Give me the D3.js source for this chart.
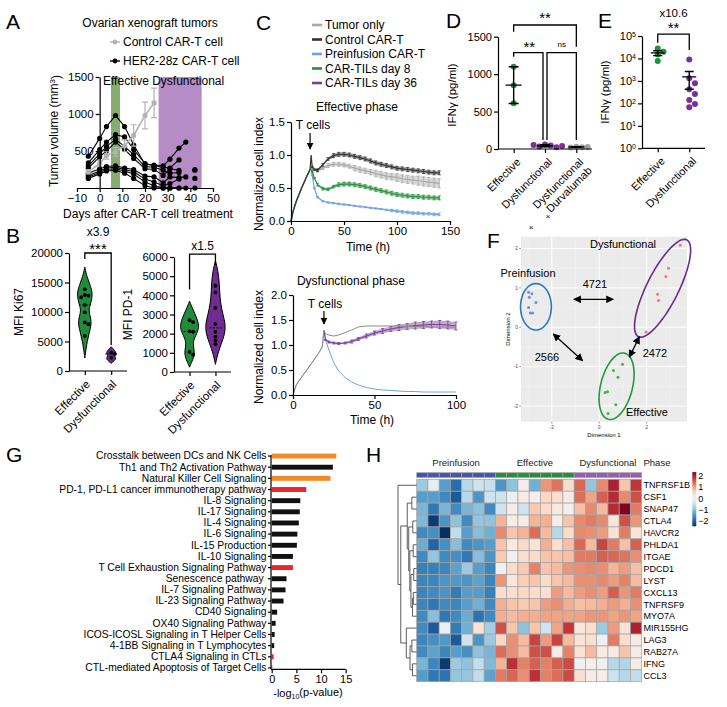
<!DOCTYPE html>
<html>
<meta charset="utf-8">
<style>
  body { margin: 0; background: #fff; }
  svg text { font-family: "Liberation Sans", Arial, Helvetica, sans-serif; }
</style>
<body>
<script src="https://cdn.jsdelivr.net/npm/d3@7"></script>
<div id="chart"></div>
<script>
// ---------------- data ----------------
// A: tumor volume
var aCtrlDays = [-5, 0, 3, 7, 11, 15, 20, 24];
var aCtrlVol  = [220, 330, 440, 490, 570, 710, 980, 1150];
var aCtrlErr  = [30, 40, 50, 60, 80, 145, 180, 200];
var aMiceDays = [-5, 0, 3, 7, 11, 15, 20, 24, 28, 31, 35, 38, 42];
var aMice = [
  [430, 670, 830, 980, 830, 580, 320, 310, 300, 390, 540, 620, null],
  [340, 520, 620, 720, 690, 520, 330, 300, 280, 270, 380, null, null],
  [300, 460, 560, 660, 560, 450, 290, 280, 240, 200, 210, null, 240],
  [270, 420, 500, 620, 520, 400, 260, 250, 170, 260, 240, null, 250],
  [200, 260, 290, 300, 270, 250, 160, 150, 70, 150, 140, 150, null],
  [170, 230, 270, 280, 250, 220, 120, 80, 30, 60, 120, null, 130],
  [150, 210, 250, 260, 230, 190, 80, 30, 0, 0, 0, 0, null],
  [130, 190, 230, 240, 200, 130, 30, 0, 0, 0, 0, null, 0]
];
var aPhaseNames = ["Effective", "Dysfunctional"];
var aPhaseFrom = [5, 26];
var aPhaseTo = [9, 45];

// B: violins (value, relative density)
var bKi67Eff = [13850, 12880, 12760, 12500, 11190, 9950, 8250, 7920, 5930];
var bKi67Dys = [3100, 2900, 2250];
var bKi67EffShape = [[17600,0],[16000,0.25],[14500,0.7],[13000,1],[11500,0.75],[10300,0.45],[9200,0.7],[8000,0.85],[6500,0.55],[5000,0.3],[3500,0.12],[2200,0]];
var bKi67DysShape = [[4100,0],[3600,0.35],[3100,0.65],[2600,0.35],[2100,0.65],[1700,0.35],[1300,0]];
var bPd1Eff = [2700, 2600, 2120, 2100, 1050, 900];
var bPd1Dys = [4500, 4150, 3350, 2500, 2100, 1850, 1650, 1450];
var bPd1EffShape = [[3700,0],[3300,0.3],[2800,0.75],[2300,1],[1900,0.6],[1500,0.3],[1100,0.5],[800,0.45],[500,0.2],[250,0]];
var bPd1DysShape = [[5800,0],[5300,0.25],[4700,0.38],[4200,0.42],[3600,0.5],[3000,0.75],[2500,1],[2000,0.95],[1500,0.6],[1000,0.25],[400,0]];

// C: cell index curves
var cSeries = ["Tumor only", "Control CAR-T", "Preinfusion CAR-T", "CAR-TILs day 8", "CAR-TILs day 36"];
var cT1 = [0,2,5,10,15,18,19,20,22,25,30,35,40,45,50,55,60,65,70,75,80,85,90,95,100,105,110,115,120,125,130,135,140];
var cTumor1 = [0,0.15,0.3,0.5,0.68,0.78,0.8,0.79,0.77,0.76,0.8,0.84,0.86,0.86,0.85,0.83,0.8,0.78,0.76,0.74,0.72,0.7,0.68,0.67,0.66,0.64,0.63,0.62,0.61,0.6,0.59,0.58,0.57];
var cTumor1Err = [0,0,0,0,0,0,0,0.01,0.01,0.02,0.02,0.03,0.03,0.03,0.03,0.03,0.04,0.04,0.04,0.04,0.05,0.05,0.05,0.05,0.06,0.06,0.06,0.06,0.07,0.07,0.07,0.07,0.07];
var cCtrl1 = [0,0.15,0.3,0.5,0.68,0.78,1.0,0.82,0.78,0.77,0.85,0.94,0.99,1.01,1.01,1.0,0.98,0.96,0.94,0.91,0.88,0.86,0.84,0.82,0.8,0.79,0.78,0.77,0.76,0.75,0.74,0.73,0.73];
var cCtrl1Err = [0,0,0,0,0,0,0,0.01,0.01,0.02,0.02,0.02,0.03,0.03,0.03,0.03,0.03,0.03,0.03,0.03,0.03,0.03,0.03,0.03,0.03,0.03,0.03,0.03,0.03,0.03,0.03,0.03,0.03];
var cPre1 = [0,0.15,0.3,0.5,0.68,0.78,0.8,0.7,0.5,0.36,0.3,0.28,0.27,0.26,0.25,0.24,0.23,0.22,0.21,0.2,0.19,0.18,0.17,0.16,0.15,0.14,0.13,0.12,0.12,0.11,0.11,0.1,0.1];
var cPre1Err = [0,0,0,0,0,0,0,0.01,0.01,0.01,0.01,0.01,0.01,0.01,0.01,0.01,0.01,0.01,0.01,0.01,0.01,0.01,0.01,0.02,0.02,0.02,0.02,0.02,0.02,0.02,0.02,0.02,0.02];
var cD8 = [0,0.15,0.3,0.5,0.68,0.78,0.8,0.75,0.65,0.55,0.49,0.48,0.52,0.55,0.56,0.56,0.55,0.54,0.52,0.5,0.48,0.46,0.44,0.42,0.4,0.39,0.38,0.37,0.37,0.36,0.36,0.35,0.35];
var cD8Err = [0,0,0,0,0,0,0,0.01,0.01,0.02,0.02,0.02,0.02,0.03,0.03,0.03,0.03,0.03,0.03,0.03,0.03,0.03,0.03,0.03,0.03,0.03,0.03,0.03,0.03,0.03,0.03,0.03,0.03];
var cT2 = [0,2,4,8,12,16,18,19,20,22,25,28,32,36,40,45,50,55,60,65,70,75,80,85,90,95,100];
var cTumor2 = [0,0.2,0.3,0.48,0.66,0.85,0.97,1.3,1.22,1.2,1.18,1.2,1.25,1.3,1.36,1.38,1.38,1.38,1.38,1.38,1.37,1.37,1.37,1.36,1.36,1.36,1.36];
var cPre2 = [0,0.2,0.3,0.48,0.66,0.85,0.97,1.3,1.1,0.9,0.65,0.48,0.35,0.26,0.2,0.15,0.12,0.1,0.09,0.08,0.07,0.07,0.06,0.06,0.06,0.06,0.06];
var cD36 = [null,null,null,null,null,null,null,1.28,1.1,1.06,1.04,1.03,1.04,1.07,1.12,1.18,1.24,1.28,1.32,1.35,1.37,1.39,1.4,1.41,1.41,1.4,1.38];
var cD36Err = [0,0,0,0,0,0,0,0,0.01,0.02,0.02,0.02,0.02,0.03,0.03,0.04,0.04,0.05,0.05,0.06,0.06,0.07,0.07,0.07,0.08,0.08,0.08];

// D: IFNg
var dGroups = ["Effective", "Dysfunctional", "Dysfunctional|Durvalumab"];
var dEff = [1100, 850, 610];
var dDys = [60, 48, 35, 25, 52, 40];
var dDurva = [30, 25, 20, 28];

// E: IFNg log
var eGroups = ["Effective", "Dysfunctional"];
var eEff = [28000, 20000, 15000, 7700];
var eDys = [9100, 1300, 780, 430, 260, 140, 94, 67];

// F: MDS
var fGroups = ["Preinfusion", "Effective", "Dysfunctional"];
var fPre = [[-2.98,0.89],[-2.84,0.85],[-2.95,0.76],[-2.67,0.63],[-2.98,0.5],[-2.91,0.36],[-2.81,0.36]];
var fEff = [[0.98,-0.94],[0.6,-1.1],[0.79,-1.27],[0.35,-1.64],[0.25,-1.66],[0.7,-1.97],[0.37,-2.19]];
var fDys = [[3.42,2.08],[2.92,1.5],[2.81,1.29],[2.46,0.84],[2.5,0.68],[1.97,-0.12]];
var fEllCenter = [[-2.67,0.52],[0.73,-1.5],[2.67,0.99]];
var fEllMajor = [[0,0.59],[0.35,0.84],[1.02,1.23]];
var fEllMinor = [[0.65,0],[0.65,-0.1],[0.6,-0.18]];
var fDist = ["4721", "2566", "2472"];
var fDistFrom = [[-1.07,0.71],[-1.94,-0.17],[1.69,-0.24]];
var fDistTo = [[0.59,0.71],[-0.7,-0.85],[1.27,-0.76]];

// G: pathways
var gPathways = ["Crosstalk between DCs and NK Cells","Th1 and Th2 Activation Pathway","Natural Killer Cell Signaling","PD-1, PD-L1 cancer immunotherapy pathway","IL-8 Signaling","IL-17 Signaling","IL-4 Signaling","IL-6 Signaling","IL-15 Production","IL-10 Signaling","T Cell Exhaustion Signaling Pathway","Senescence pathway\u00a0","IL-7 Signaling Pathway","IL-23 Signaling Pathway","CD40 Signaling","OX40 Signaling Pathway","ICOS-ICOSL Signaling in T Helper Cells","4-1BB Signaling in T Lymphocytes","CTLA4 Signaling in CTLs","CTL-mediated Apoptosis of Target Cells"];
var gLogP = [13.1, 12.4, 11.9, 7.0, 5.8, 5.7, 5.5, 5.2, 5.1, 4.3, 4.3, 3.0, 2.8, 2.4, 1.1, 0.8, 0.6, 0.5, 0.4, 0.1];
var gCategory = ["nk","other","nk","checkpoint","other","other","other","other","other","other","checkpoint","other","other","other","other","other","other","other","checkpoint","other"];

// H: heatmap
var hGenes = ["TNFRSF1B","CSF1","SNAP47","CTLA4","HAVCR2","PHLDA1","ITGAE","PDCD1","LYST","CXCL13","TNFRSF9","MYO7A","MIR155HG","LAG3","RAB27A","IFNG","CCL3"];
var hPhases = ["Preinfusion","Effective","Dysfunctional"];
var hSamplePhase = [0,0,0,0,0,0,0,1,1,1,1,1,1,1,2,2,2,2,2,2];
var hValues = [
  [-0.9,-0.2,-1.4,-1.9,-0.7,-0.5,-0.55,-1.5,-1.0,0.1,-1.2,1.1,1.35,0.45,1.45,-0.95,1.2,2.0,0.7,1.8],
  [-1.4,-1.4,-1.6,-2.1,-0.7,-1.5,-0.5,-0.5,-0.15,0.2,0.1,0.5,0.4,0.15,1.4,1.0,1.5,1.9,1.2,1.6],
  [-1.15,-1.8,-1.15,-1.6,-1.15,-1.0,-1.6,-0.5,0.1,-0.5,0.65,0.45,0.25,0,0.75,1.2,0.8,1.9,2.35,1.3],
  [-1.1,-2.4,-1.5,-1.0,-1.6,-0.95,-1.0,0.85,0.15,0.15,0.85,0.9,0.1,0.7,1.2,1.3,1.2,0.3,1.6,1.1],
  [-1.6,-1.55,-2.5,-0.6,-1.4,-1.05,-1.2,1.2,0.7,0.85,1.4,0.8,-0.7,0.45,1.2,1.15,1.05,0.35,1.3,0.3],
  [-1.25,-2.0,-1.55,-1.05,-1.6,-1.5,-1.4,0.7,0.2,0.45,0.35,0.9,0.4,0.75,1.45,0.8,1.7,1.3,0.75,1.5],
  [-1.6,-0.95,-1.6,-1.55,-1.8,-1.05,-1.5,0.65,0,0.4,0.45,0.7,0.7,0.75,1.3,1.3,1.5,1.45,1.35,1.15],
  [-1.7,-1.7,-1.65,-1.35,-0.9,-1.4,-1.65,0,0.45,0.65,1.25,0.7,0.8,1.1,1.15,1.2,1.15,0.85,1.05,0.75],
  [-1.65,-1.65,-1.5,-1.45,-1.5,-1.35,-1.65,1.1,0.3,0.6,0.7,0.45,0.7,0.8,1.15,1.15,1.2,1.05,1.25,0.8],
  [-1.65,-1.6,-1.5,-1.75,-1.4,-1.4,-1.7,0.4,0.4,0.5,0.45,0.4,1.05,0.8,1.05,1.15,1.05,1.5,1.1,1.3],
  [-1.65,-1.8,-1.6,-1.65,-1.4,-1.2,-1.6,0.9,0.7,0.65,0.7,1.05,1.15,0.9,0.75,0.8,0.9,1.05,0.9,1.15],
  [-1.6,-1.05,-1.8,-1.6,-1.25,-1.85,-1.6,0.9,0.8,0.9,0.9,1.0,1.0,1.0,1.0,1.1,1.1,1.0,1.1,1.0],
  [-1.6,-2.1,-0.15,-1.75,-1.2,0.35,-0.85,1.6,0.7,-1.0,0.7,-0.5,1.0,1.8,0.3,0.4,-0.9,1.05,0.35,2.0],
  [-1.65,-1.55,-1.45,-2.1,-0.45,-1.5,-0.9,0.5,1.15,0.8,1.7,1.05,1.7,0.8,0.35,0.4,-0.15,1.3,0.4,0.15],
  [-1.6,-1.35,-1.65,-1.4,-1.55,-1.0,-1.15,1.4,1.15,0.8,1.6,1.6,0.15,1.25,0.35,0.8,0.2,0.15,0.7,0.15],
  [-1.15,-1.65,-2.4,-0.9,-1.0,-0.6,-1.1,0.85,1.85,1.25,1.5,1.25,1.5,1.65,0,0.05,0.05,-0.7,-0.75,0.15],
  [-1.4,-1.8,-1.85,-0.95,-0.95,-0.6,-1.35,1.3,1.45,1.15,1.85,1.25,1.4,1.65,0.4,0.15,0.1,-0.5,-0.7,-0.6]
];
// row dendrogram, hclust style: negative = leaf (1-based), positive = earlier merge
var hMerge = [[-2,-3],[-4,-5],[-6,-7],[-8,-9],[-10,-11],[5,-12],[4,6],[3,7],[2,8],[1,9],[-14,-15],[-16,-17],[11,12],[-13,13],[10,14],[-1,15]];
var hHeight = [2.5, 2.0, 1.8, 1.5, 1.7, 2.2, 3.0, 3.6, 4.2, 5.0, 2.5, 2.2, 3.5, 5.5, 8.5, 10];
var hLegendTicks = [2, 1, 0, -1, -2];

// ---------------- drawing ----------------
var FONT = '"Liberation Sans", Arial, Helvetica, sans-serif';
var fmt = d3.format("d");
var svg = d3.select("#chart").append("svg")
  .attr("width", 727).attr("height", 707)
  .style("background", "#fff");

var defs = svg.append("defs");
defs.append("marker").attr("id", "arr").attr("viewBox", "0 0 10 10")
  .attr("refX", 9).attr("refY", 5).attr("markerWidth", 6).attr("markerHeight", 6)
  .attr("orient", "auto-start-reverse")
  .append("path").attr("d", "M0,0 L10,5 L0,10 z").attr("fill", "#000");

function styleAxis(g, fs) {
  g.attr("font-family", FONT).attr("font-size", fs);
  g.selectAll("path.domain").attr("stroke", "#000").attr("stroke-width", 1.2);
  g.selectAll(".tick line").attr("stroke", "#000").attr("stroke-width", 1.2);
  g.selectAll(".tick text").attr("fill", "#000");
  return g;
}
function text(g, s, x, y, fs, anchor) {
  return g.append("text").attr("x", x).attr("y", y).attr("font-size", fs)
    .attr("text-anchor", anchor || "start").attr("fill", "#000").text(s);
}
function vlabel(g, s, x, y, fs) {
  return g.append("text").attr("transform", "translate(" + x + "," + y + ") rotate(-90)")
    .attr("font-size", fs).attr("text-anchor", "middle").attr("fill", "#000").text(s);
}
function rotLabels(g, cats, xs, y0, fs, dx) {
  cats.forEach(function (c, i) {
    var t = g.append("text").attr("transform", "translate(" + (xs(c) + dx) + "," + y0 + ") rotate(-45)")
      .attr("font-size", fs).attr("text-anchor", "end").attr("fill", "#000");
    c.split("|").forEach(function (line, j) {
      t.append("tspan").attr("x", 0).attr("dy", j === 0 ? "0.35em" : "1.1em").text(line);
    });
  });
}
function swarm(vals, y, r) {
  var placed = [];
  return vals.map(function (v) {
    var py = y(v), offs = [0, 1, -1, 2, -2, 3, -3], off = 0;
    for (var k = 0; k < offs.length; k++) {
      off = offs[k] * r * 1.9;
      if (!placed.some(function (p) { return Math.hypot(p[0] - off, p[1] - py) < r * 1.8; })) break;
    }
    placed.push([off, py]);
    return [off, py, v];
  });
}
function bracket(g, x1, x2, yTop, yL, yR) {
  g.append("path").attr("d", "M" + x1 + "," + yL + "V" + yTop + "H" + x2 + "V" + yR)
    .attr("fill", "none").attr("stroke", "#000").attr("stroke-width", 1.3);
}

// ===== Panel A =====
(function () {
  var g = svg.append("g");
  var x = d3.scaleLinear().domain([-10, 50]).range([77, 213]);
  var y = d3.scaleLinear().domain([0, 1500]).range([188, 77]);
  var bandColors = ["#86ad6f", "#b58cc6"];
  aPhaseFrom.forEach(function (f, i) {
    g.append("rect").attr("x", x(f)).attr("width", x(aPhaseTo[i]) - x(f))
      .attr("y", y(1500)).attr("height", y(0) - y(1500)).attr("fill", bandColors[i]);
  });
  text(g, "A", 6, 29, 21);
  text(g, "Ovarian xenograft tumors", 150, 27, 12, "middle");
  text(g, aPhaseNames.join(" "), 103, 85, 12);

  var line = d3.line().defined(function (d) { return d[1] != null; })
    .x(function (d) { return x(d[0]); }).y(function (d) { return y(d[1]); });
  aMice.forEach(function (m) {
    var pts = aMiceDays.map(function (d, i) { return [d, m[i]]; });
    g.append("path").attr("d", line(pts)).attr("fill", "none").attr("stroke", "#000").attr("stroke-width", 1.1);
    g.selectAll(null).data(pts.filter(function (p) { return p[1] != null; })).enter().append("circle")
      .attr("cx", function (p) { return x(p[0]); }).attr("cy", function (p) { return y(p[1]); })
      .attr("r", 2.6).attr("fill", "#000");
  });
  var cpts = aCtrlDays.map(function (d, i) { return [d, aCtrlVol[i], aCtrlErr[i]]; });
  var gray = "#b3b3b3";
  cpts.forEach(function (p) {
    g.append("path").attr("d", "M" + (x(p[0]) - 3) + "," + y(p[1] + p[2]) + "H" + (x(p[0]) + 3) +
      "M" + x(p[0]) + "," + y(p[1] + p[2]) + "V" + y(p[1] - p[2]) + "M" + (x(p[0]) - 3) + "," + y(p[1] - p[2]) + "H" + (x(p[0]) + 3))
      .attr("stroke", gray).attr("stroke-width", 1.2).attr("fill", "none");
  });
  g.append("path").attr("d", line(cpts)).attr("fill", "none").attr("stroke", gray).attr("stroke-width", 1.6);
  g.selectAll(null).data(cpts).enter().append("circle")
    .attr("cx", function (p) { return x(p[0]); }).attr("cy", function (p) { return y(p[1]); })
    .attr("r", 2.6).attr("fill", gray);

  // legend
  [["Control CAR-T cell", gray, 42], ["HER2-28z CAR-T cell", "#000", 61]].forEach(function (l) {
    g.append("line").attr("x1", 110).attr("x2", 120).attr("y1", l[2]).attr("y2", l[2]).attr("stroke", l[1]).attr("stroke-width", 1.4);
    g.append("circle").attr("cx", 115).attr("cy", l[2]).attr("r", 2.4).attr("fill", l[1]);
    text(g, l[0], 123, l[2] + 4.2, 12);
  });

  // y axis crosses at day 0
  var yAxis = g.append("g").attr("transform", "translate(" + x(0) + ",0)")
    .call(d3.axisLeft(y).tickValues([0, 500, 1000, 1500]).tickSize(4).tickSizeOuter(0).tickPadding(2)
      .tickFormat(function (d) { return d === 0 ? "" : fmt(d); }));
  styleAxis(yAxis, 11.5);
  var xAxis = g.append("g").attr("transform", "translate(0,188)")
    .call(d3.axisBottom(x).tickValues([-10, 0, 10, 20, 30, 40, 50]).tickSize(4).tickSizeOuter(0).tickPadding(2));
  styleAxis(xAxis, 11.5);
  text(g, "Days after CAR-T cell treatment", 148, 218, 12, "middle");
  var yl = vlabel(g, "Tumor volume (mm", 58, 131, 12);
  yl.append("tspan").attr("dy", "-0.4em").attr("font-size", 8).text("3");
  yl.append("tspan").attr("dy", "0.4em").text(")");
})();

// ===== Panel B =====
function violinPanel(cfg) {
  var g = svg.append("g");
  var y = d3.scaleLinear().domain([0, cfg.max]).range([cfg.y0, cfg.y1]);
  var x = d3.scalePoint().domain(["Effective", "Dysfunctional"]).range([cfg.x0, cfg.x1]).padding(0.6);
  var w = d3.scaleLinear().domain([0, 1]).range([0, cfg.halfW]);
  var cols = ["#1f8b3b", "#6f2c91"];
  [[cfg.effShape, cfg.eff], [cfg.dysShape, cfg.dys]].forEach(function (s, i) {
    var cx = x(x.domain()[i]);
    var area = d3.area().curve(d3.curveBasis)
      .y(function (d) { return y(d[0]); })
      .x0(function (d) { return cx - w(d[1]); }).x1(function (d) { return cx + w(d[1]); });
    g.append("path").datum(s[0]).attr("d", area).attr("fill", cols[i]).attr("stroke", "#000").attr("stroke-width", 1);
    var sorted = s[1].slice().sort(d3.ascending);
    var med = d3.quantile(sorted, 0.5);
    g.append("line").attr("x1", cx - 6).attr("x2", cx + 6).attr("y1", y(med)).attr("y2", y(med))
      .attr("stroke", "#000").attr("stroke-width", 0.9).attr("stroke-dasharray", "2,1.5");
    swarm(s[1], y, 1.9).forEach(function (p) {
      g.append("circle").attr("cx", cx + p[0]).attr("cy", p[1]).attr("r", 1.9).attr("fill", "#000");
    });
  });
  var ya = g.append("g").attr("transform", "translate(" + cfg.x0 + ",0)")
    .call(d3.axisLeft(y).tickValues(cfg.ticks).tickFormat(fmt).tickSize(4).tickSizeOuter(0).tickPadding(2));
  styleAxis(ya, 11.5);
  var xa = g.append("g").attr("transform", "translate(0," + cfg.y0 + ")")
    .call(d3.axisBottom(x).tickSize(4).tickSizeOuter(0).tickFormat(""));
  styleAxis(xa, 11.5);
  xa.select("path.domain").attr("d", "M" + cfg.x0 + ",0H" + cfg.x1);
  rotLabels(g, x.domain(), x, cfg.y0 + 11, 11.5, 3);
  vlabel(g, cfg.label, cfg.labelX, (cfg.y0 + cfg.y1) / 2, 12);
  var xe = x("Effective"), xd = x("Dysfunctional");
  bracket(g, xe, xd, y(cfg.br[0]), y(cfg.br[1]), y(cfg.br[2]));
  cfg.notes.forEach(function (n) { text(g, n[0], (xe + xd) / 2, n[1], n[2], "middle"); });
}
text(svg, "B", 6, 243, 21);
violinPanel({ x0: 69, x1: 127, y0: 371, y1: 253, max: 20000, ticks: [0, 5000, 10000, 15000, 20000],
  eff: bKi67Eff, dys: bKi67Dys, effShape: bKi67EffShape, dysShape: bKi67DysShape, halfW: 8,
  label: "MFI Ki67", labelX: 23, br: [20000, 19000, 4400], notes: [["x3.9", 236, 12], ["***", 254, 15]] });
violinPanel({ x0: 174, x1: 231, y0: 372, y1: 257, max: 6000, ticks: [0, 1000, 2000, 3000, 4000, 5000, 6000],
  eff: bPd1Eff, dys: bPd1Dys, effShape: bPd1EffShape, dysShape: bPd1DysShape, halfW: 10,
  label: "MFI PD-1", labelX: 132, br: [6150, 4300, 5600], notes: [["x1.5", 250, 12]] });

// ===== Panel C =====
var cColors = ["#a9a9a9", "#333333", "#6fa3e0", "#23913a", "#7a3d9d"];
(function () {
  var g = svg.append("g");
  text(g, "C", 256, 30, 21);
  cSeries.forEach(function (s, i) {
    var yy = 25 + i * 14.5;
    g.append("line").attr("x1", 312).attr("x2", 322).attr("y1", yy).attr("y2", yy).attr("stroke", cColors[i]).attr("stroke-width", 2.6);
    text(g, s, 325, yy + 4.3, 12);
  });

  function curves(x, y, t, list) {
    list.forEach(function (c) {
      var pts = t.map(function (tt, i) { return [tt, c.v[i], c.e ? c.e[i] : 0]; }).filter(function (p) { return p[1] != null; });
      if (c.e) {
        var band = d3.area().x(function (p) { return x(p[0]); })
          .y0(function (p) { return y(p[1] - p[2]); }).y1(function (p) { return y(p[1] + p[2]); });
        g.append("path").attr("d", band(pts)).attr("fill", c.col).attr("opacity", 0.45);
        pts.forEach(function (p) {
          if (p[2] > 0) g.append("path").attr("d", "M" + x(p[0]) + "," + y(p[1] - p[2]) + "V" + y(p[1] + p[2]) +
            "M" + (x(p[0]) - 1.5) + "," + y(p[1] + p[2]) + "h3M" + (x(p[0]) - 1.5) + "," + y(p[1] - p[2]) + "h3")
            .attr("stroke", c.col).attr("stroke-width", 0.8).attr("fill", "none");
        });
      }
      g.append("path").attr("d", d3.line().x(function (p) { return x(p[0]); }).y(function (p) { return y(p[1]); })(pts))
        .attr("fill", "none").attr("stroke", c.col).attr("stroke-width", c.w || 1.2);
    });
  }

  // effective phase
  var x1 = d3.scaleLinear().domain([0, 150]).range([291, 450]);
  var y1 = d3.scaleLinear().domain([0, 1.5]).range([221, 122]);
  text(g, "Effective phase", 357, 111, 12, "middle");
  curves(x1, y1, cT1, [
    { v: cPre1, e: cPre1Err, col: cColors[2] },
    { v: cD8, e: cD8Err, col: cColors[3] },
    { v: cTumor1, e: cTumor1Err, col: cColors[0] },
    { v: cCtrl1, e: cCtrl1Err, col: cColors[1] }
  ]);
  styleAxis(g.append("g").attr("transform", "translate(291,0)")
    .call(d3.axisLeft(y1).tickValues([0, 0.5, 1, 1.5]).tickFormat(d3.format(".1f")).tickSize(4).tickSizeOuter(0).tickPadding(2)), 11.5);
  styleAxis(g.append("g").attr("transform", "translate(0,221)")
    .call(d3.axisBottom(x1).tickValues([0, 50, 100, 150]).tickSize(4).tickSizeOuter(0).tickPadding(2)), 11.5);
  text(g, "Time (h)", 368, 251, 12, "middle");
  vlabel(g, "Normalized cell index", 263, 174, 12);
  text(g, "T cells", 313, 129, 12, "middle");
  g.append("line").attr("x1", x1(18)).attr("x2", x1(18)).attr("y1", 133).attr("y2", 149)
    .attr("stroke", "#000").attr("stroke-width", 1.2).attr("marker-end", "url(#arr)");

  // dysfunctional phase
  var x2 = d3.scaleLinear().domain([0, 100]).range([293, 456]);
  var y2 = d3.scaleLinear().domain([0, 2]).range([395, 295]);
  text(g, "Dysfunctional phase", 351, 285, 12, "middle");
  curves(x2, y2, cT2, [
    { v: cPre2, col: cColors[2], w: 1 },
    { v: cD36, e: cD36Err, col: cColors[4] },
    { v: cTumor2, col: "#8c8c8c", w: 1 }
  ]);
  styleAxis(g.append("g").attr("transform", "translate(293,0)")
    .call(d3.axisLeft(y2).tickValues([0, 0.5, 1, 1.5, 2]).tickFormat(d3.format(".1f")).tickSize(4).tickSizeOuter(0).tickPadding(2)), 11.5);
  styleAxis(g.append("g").attr("transform", "translate(0,395)")
    .call(d3.axisBottom(x2).tickValues([0, 50, 100]).tickSize(4).tickSizeOuter(0).tickPadding(2)), 11.5);
  text(g, "Time (h)", 372, 424, 12, "middle");
  vlabel(g, "Normalized cell index", 263, 347, 12);
  text(g, "T cells", 325, 308, 12, "middle");
  g.append("line").attr("x1", x2(19)).attr("x2", x2(19)).attr("y1", 311).attr("y2", 324)
    .attr("stroke", "#000").attr("stroke-width", 1.2).attr("marker-end", "url(#arr)");
})();

// ===== Panel D =====
(function () {
  var g = svg.append("g");
  text(g, "D", 446, 28, 21);
  var y = d3.scaleLinear().domain([0, 1500]).range([149, 36.7]);
  var x = d3.scalePoint().domain(dGroups).range([498, 592]).padding(0.5);
  var cols = ["#1f9140", "#7a3196", "#a0a0a0"];
  [dEff, dDys, dDurva].forEach(function (vals, i) {
    var cx = x(dGroups[i]);
    var m = d3.mean(vals), sd = d3.deviation(vals);
    swarm(vals, y, 3).forEach(function (p) {
      g.append("circle").attr("cx", cx + p[0]).attr("cy", p[1]).attr("r", 3).attr("fill", cols[i]);
    });
    g.append("path").attr("d", "M" + (cx - 8) + "," + y(m) + "h16M" + cx + "," + y(m - sd) + "V" + y(m + sd) +
      "M" + (cx - 5) + "," + y(m + sd) + "h10M" + (cx - 5) + "," + y(m - sd) + "h10")
      .attr("stroke", "#000").attr("stroke-width", 1.4).attr("fill", "none");
  });
  styleAxis(g.append("g").attr("transform", "translate(498,0)")
    .call(d3.axisLeft(y).tickValues([0, 500, 1000, 1500]).tickFormat(fmt).tickSize(4).tickSizeOuter(0).tickPadding(2)), 11);
  var xa = g.append("g").attr("transform", "translate(0,149)")
    .call(d3.axisBottom(x).tickSize(4).tickSizeOuter(0).tickFormat(""));
  styleAxis(xa, 11);
  xa.select("path.domain").attr("d", "M498,0H592");
  rotLabels(g, dGroups, x, 160, 11, 5);
  vlabel(g, "IFN\u03b3 (pg/ml)", 456, 95, 11.5);
  var x0 = x(dGroups[0]), x1 = x(dGroups[1]), x2 = x(dGroups[2]);
  bracket(g, x0, x2, y(1656), y(1567), y(1366));
  bracket(g, x0, x1 - 2, y(1286), y(1233), y(120));
  bracket(g, x1 + 2, x2, y(1286), y(120), y(120));
  text(g, "**", (x0 + x2) / 2, 23, 15, "middle");
  text(g, "**", (x0 + x1) / 2, 52, 15, "middle");
  text(g, "ns", (x1 + x2) / 2 + 1, 47, 8, "middle");
  text(g, "\u00d7", 548, 219, 8, "middle");
  text(g, "\u00d7", 531, 230, 8, "middle");
})();

// ===== Panel E =====
(function () {
  var g = svg.append("g");
  text(g, "E", 598, 28, 21);
  var y = d3.scaleLog().domain([1, 1e5]).range([148.3, 36]);
  var x = d3.scalePoint().domain(eGroups).range([642, 705]).padding(0.5);
  var cols = ["#1f9140", "#7a3196"];
  [eEff, eDys].forEach(function (vals, i) {
    var cx = x(eGroups[i]);
    var m = d3.mean(vals), se = d3.deviation(vals) / Math.sqrt(vals.length);
    swarm(vals, y, 3).forEach(function (p) {
      g.append("circle").attr("cx", cx + p[0]).attr("cy", p[1]).attr("r", 3).attr("fill", cols[i]);
    });
    g.append("path").attr("d", "M" + (cx - 7) + "," + y(m) + "h14M" + cx + "," + y(m - se) + "V" + y(m + se) +
      "M" + (cx - 4.5) + "," + y(m + se) + "h9M" + (cx - 4.5) + "," + y(m - se) + "h9")
      .attr("stroke", "#000").attr("stroke-width", 1.4).attr("fill", "none");
  });
  var ya = g.append("g").attr("transform", "translate(642,0)")
    .call(d3.axisLeft(y).tickValues([1, 10, 100, 1e3, 1e4, 1e5]).tickSize(4).tickSizeOuter(0).tickPadding(2));
  styleAxis(ya, 11);
  ya.selectAll(".tick text").each(function (d) {
    var t = d3.select(this).text("10");
    t.append("tspan").attr("dy", "-0.5em").attr("font-size", 7).text(Math.round(Math.log10(d)));
  });
  var xa = g.append("g").attr("transform", "translate(0,148.3)")
    .call(d3.axisBottom(x).tickSize(4).tickSizeOuter(0).tickFormat(""));
  styleAxis(xa, 11);
  xa.select("path.domain").attr("d", "M642,0H705");
  rotLabels(g, eGroups, x, 159, 11, 5);
  vlabel(g, "IFN\u03b3 (pg/ml)", 609, 92, 11.5);
  var xe = x(eGroups[0]), xd = x(eGroups[1]);
  bracket(g, xe, xd, y(1.2e5), y(5e4), y(2.4e4));
  text(g, "x10.6", (xe + xd) / 2, 17, 11.5, "middle");
  text(g, "**", (xe + xd) / 2, 33, 15, "middle");
})();

// ===== Panel F =====
(function () {
  var g = svg.append("g");
  text(g, "F", 487, 248, 21);
  var x = d3.scaleLinear().domain([-3.3, 3.7]).range([521, 687]);
  var y = d3.scaleLinear().domain([-2.4, 2.3]).range([421.7, 236.7]);
  g.append("rect").attr("x", 521).attr("y", 236.7).attr("width", 166).attr("height", 185).attr("fill", "#ebebeb");
  [-3, -1, 1, 3].forEach(function (v) {
    g.append("line").attr("x1", x(v)).attr("x2", x(v)).attr("y1", 236.7).attr("y2", 421.7).attr("stroke", "#f5f5f5").attr("stroke-width", 0.5);
  });
  [-1.5, -0.5, 0.5, 1.5].forEach(function (v) {
    g.append("line").attr("y1", y(v)).attr("y2", y(v)).attr("x1", 521).attr("x2", 687).attr("stroke", "#f5f5f5").attr("stroke-width", 0.5);
  });
  [-2, 0, 2].forEach(function (v) {
    g.append("line").attr("x1", x(v)).attr("x2", x(v)).attr("y1", 236.7).attr("y2", 421.7).attr("stroke", "#fff").attr("stroke-width", 1);
    g.append("line").attr("x1", x(v)).attr("x2", x(v)).attr("y1", 421.7).attr("y2", 423.5).attr("stroke", "#333").attr("stroke-width", 0.5);
    text(g, String(v), x(v), 429, 5, "middle").attr("fill", "#4d4d4d");
  });
  [-2, -1, 0, 1, 2].forEach(function (v) {
    g.append("line").attr("y1", y(v)).attr("y2", y(v)).attr("x1", 521).attr("x2", 687).attr("stroke", "#fff").attr("stroke-width", 1);
    g.append("line").attr("y1", y(v)).attr("y2", y(v)).attr("x1", 519.2).attr("x2", 521).attr("stroke", "#333").attr("stroke-width", 0.5);
    text(g, String(v), 518, y(v) + 1.8, 5, "end").attr("fill", "#4d4d4d");
  });
  text(g, "Dimension 1", 604, 437, 6, "middle");
  vlabel(g, "Dimension 2", 510, 329, 6);

  var ptCols = ["#6b8fd9", "#3bb54a", "#f4766d"];
  var ellCols = ["#2f78c4", "#1f9a3e", "#6a2b8e"];
  [fPre, fEff, fDys].forEach(function (pts, i) {
    pts.forEach(function (p) {
      g.append("circle").attr("cx", x(p[0])).attr("cy", y(p[1])).attr("r", 1.5).attr("fill", ptCols[i]);
    });
    var c = fEllCenter[i], a = fEllMajor[i], b = fEllMinor[i];
    var ep = d3.range(0, 361, 5).map(function (t) {
      var r = t * Math.PI / 180;
      return [x(c[0] + a[0] * Math.cos(r) + b[0] * Math.sin(r)), y(c[1] + a[1] * Math.cos(r) + b[1] * Math.sin(r))];
    });
    g.append("path").attr("d", d3.line()(ep) + "Z").attr("fill", "none").attr("stroke", ellCols[i]).attr("stroke-width", 1.6);
  });
  fDist.forEach(function (d, i) {
    g.append("line").attr("x1", x(fDistFrom[i][0])).attr("y1", y(fDistFrom[i][1]))
      .attr("x2", x(fDistTo[i][0])).attr("y2", y(fDistTo[i][1]))
      .attr("stroke", "#000").attr("stroke-width", 1.3)
      .attr("marker-start", "url(#arr)").attr("marker-end", "url(#arr)");
  });
  text(g, fDist[0], 595, 288, 11, "middle");
  text(g, fDist[1], 547, 361, 11, "middle");
  text(g, fDist[2], 655, 357, 11, "middle");
  text(g, fGroups[0], 528, 277, 11, "middle");
  text(g, fGroups[2], 623, 247.5, 11, "middle");
  text(g, fGroups[1], 647, 415.5, 11, "middle");
})();

// ===== Panel G =====
(function () {
  var g = svg.append("g");
  text(g, "G", 6, 462, 21);
  var y = d3.scaleBand().domain(gPathways).range([453.6, 670.4]).paddingInner(0.56);
  var x = d3.scaleLinear().domain([0, 15]).range([271.7, 345.7]);
  var col = { nk: "#f28a2a", checkpoint: "#e8262b", other: "#111" };
  gPathways.forEach(function (p, i) {
    g.append("rect").attr("x", x(0)).attr("y", y(p)).attr("width", x(gLogP[i]) - x(0))
      .attr("height", y.bandwidth()).attr("fill", col[gCategory[i]]);
  });
  var ya = g.append("g").attr("transform", "translate(271,0)")
    .call(d3.axisLeft(y).tickSize(3).tickSizeOuter(0).tickPadding(1.5));
  styleAxis(ya, 10.3);
  ya.select("path.domain").attr("d", "M0,455V669.3");
  var xa = g.append("g").attr("transform", "translate(0,669.3)")
    .call(d3.axisBottom(x).tickValues([0, 5, 10, 15]).tickSize(4).tickSizeOuter(0).tickPadding(2));
  styleAxis(xa, 11);
  xa.select("path.domain").attr("d", "M271,0H345.7");
  var xl = text(g, "-log", 308, 697, 11, "middle");
  xl.append("tspan").attr("dy", "0.35em").attr("font-size", 7).text("10");
  xl.append("tspan").attr("dy", "-0.35em").text("(p-value)");
})();

// ===== Panel H =====
(function () {
  var g = svg.append("g");
  text(g, "H", 366, 462, 21);
  var cols = d3.range(hSamplePhase.length);
  var x = d3.scaleBand().domain(cols).range([416.7, 641.7]);
  var y = d3.scaleBand().domain(hGenes).range([479.3, 681.7]);
  var color = d3.scaleDiverging(d3.interpolateRdBu).domain([2.5, 0, -2.5]);
  var phaseCol = ["#4358a8", "#2a8c3c", "#9a5bb0"];
  cols.forEach(function (c) {
    g.append("rect").attr("x", x(c)).attr("y", 472.7).attr("width", x.bandwidth()).attr("height", 4.8)
      .attr("fill", phaseCol[hSamplePhase[c]]).attr("stroke", "#a0a0a0").attr("stroke-width", 0.7);
  });
  hValues.forEach(function (row, r) {
    row.forEach(function (v, c) {
      g.append("rect").attr("x", x(c)).attr("y", y(hGenes[r])).attr("width", x.bandwidth()).attr("height", y.bandwidth())
        .attr("fill", color(v)).attr("stroke", "#a3a3a3").attr("stroke-width", 0.7);
    });
  });
  hGenes.forEach(function (gn) {
    text(g, gn, 643.5, y(gn) + y.bandwidth() / 2 + 3.2, 9);
  });
  hPhases.forEach(function (p, i) {
    var idx = cols.filter(function (c) { return hSamplePhase[c] === i; });
    var cx = (x(idx[0]) + x(idx[idx.length - 1]) + x.bandwidth()) / 2;
    text(g, p, cx, 465.5, 9.5, "middle").attr("fill", "#222");
  });
  text(g, "Phase", 643.5, 465.5, 9.5).attr("fill", "#222");

  // dendrogram
  var hx = d3.scaleLinear().domain([0, 10]).range([416.5, 398]);
  var nodes = [];
  function pos(id) {
    if (id < 0) { var gn = hGenes[-id - 1]; return [hx(0), y(gn) + y.bandwidth() / 2]; }
    return nodes[id - 1];
  }
  hMerge.forEach(function (m, i) {
    var a = pos(m[0]), b = pos(m[1]), xm = hx(hHeight[i]);
    g.append("path").attr("d", "M" + a[0] + "," + a[1] + "H" + xm + "V" + b[1] + "H" + b[0])
      .attr("fill", "none").attr("stroke", "#333").attr("stroke-width", 0.8);
    nodes.push([xm, (a[1] + b[1]) / 2]);
  });

  // color legend
  var ly = d3.scaleLinear().domain([-2, 2]).range([520.7, 476]);
  var grad = defs.append("linearGradient").attr("id", "hgrad").attr("x1", 0).attr("x2", 0).attr("y1", 0).attr("y2", 1);
  d3.range(0, 1.0001, 0.05).forEach(function (t) {
    var v = 2.35 - t * (2.35 + 2.5);
    grad.append("stop").attr("offset", t).attr("stop-color", color(v));
  });
  g.append("rect").attr("x", 692.3).attr("y", ly(2.35)).attr("width", 4).attr("height", ly(-2.5) - ly(2.35)).attr("fill", "url(#hgrad)");
  hLegendTicks.forEach(function (t) {
    text(g, t < 0 ? "\u2212" + Math.abs(t) : String(t), 698.3, ly(t) + 3.3, 9);
  });
})();
</script>
</body>
</html>
